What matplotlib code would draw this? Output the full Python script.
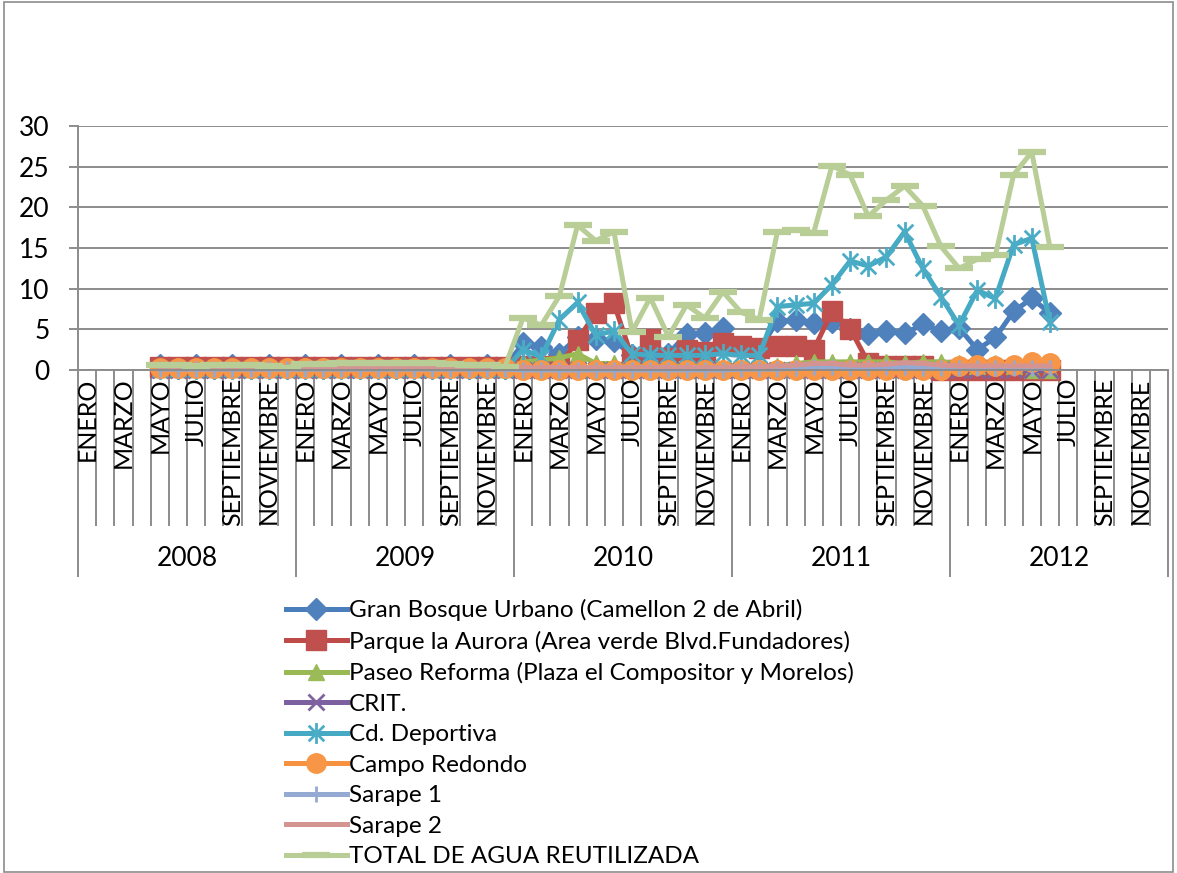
import numpy as np
import matplotlib
matplotlib.use("Agg")
import matplotlib.pyplot as plt
from matplotlib.path import Path
from matplotlib.patches import Rectangle

plt.rcParams['font.family'] = ['Lato', 'DejaVu Sans']

years = ['2008', '2009', '2010', '2011', '2012']
months = ['ENERO', 'FEBRERO', 'MARZO', 'ABRIL', 'MAYO', 'JUNIO', 'JULIO',
          'AGOSTO', 'SEPTIEMBRE', 'OCTUBRE', 'NOVIEMBRE', 'DICIEMBRE']

N = None
lead = [N] * 4     # Ene-Abr 2008 without data
trail = [N] * 6    # Jul-Dic 2012 without data

gran_bosque = lead + [
    0.6, 0.3, 0.6, 0.3, 0.6, 0.3, 0.6, 0.3,
    0.6, 0.3, 0.6, 0.3, 0.6, 0.3, 0.6, 0.3, 0.6, 0.3, 0.6, 0.3,
    3.3, 2.8, 2.0, 4.0, 3.8, 3.6, 1.8, 1.8, 2.0, 4.4, 4.5, 5.2,
    2.8, 2.5, 6.0, 6.1, 5.8, 5.9, 5.1, 4.4, 4.8, 4.5, 5.6, 4.8,
    5.2, 2.5, 4.0, 7.2, 8.8, 7.0] + trail
parque_aurora = lead + [0.35] * 20 + [
    0.5, 0.5, 0.5, 3.7, 7.0, 8.2, 1.5, 3.8, 1.5, 2.5, 2.2, 3.3,
    3.0, 2.7, 2.9, 2.9, 2.5, 7.2, 5.1, 0.9, 0.5, 0.5, 0.5, 0.0,
    0.0, 0.0, 0.0, 0.0, 0.0, 0.0] + trail
paseo_reforma = lead + [0.1] * 20 + [
    1.0, 1.2, 1.5, 2.0, 0.8, 0.8, 0.5, 0.5, 0.5, 0.5, 0.5, 0.5,
    0.5, 0.5, 0.5, 0.8, 1.0, 1.0, 1.0, 1.0, 1.0, 0.8, 1.0, 1.0,
    0.8, 0.5, 0.8, 0.5, 0.0, 0.0] + trail
crit = lead + [0.0] * 50 + trail
cd_deportiva = lead + [0.1] * 20 + [
    2.5, 1.6, 6.2, 8.3, 4.3, 4.8, 2.0, 1.8, 1.8, 1.8, 1.8, 2.0,
    1.8, 1.8, 7.8, 8.0, 8.2, 10.5, 13.4, 12.8, 13.9, 17.0, 12.5, 9.0,
    5.5, 9.8, 8.8, 15.4, 16.2, 5.9] + trail
campo_redondo = lead + [0.2] * 20 + [0.0] * 24 + [
    0.5, 0.6, 0.5, 0.6, 1.0, 0.8] + trail
sarape1 = lead + [0.1] * 20 + [
    0.0, 0.0, 0.0, 0.0, 0.0, 0.0, 0.0, 0.0, 0.0, 0.0, 0.0, 0.0,
    0.1, 0.1, 0.1, 0.2, 0.4, 0.4, 0.3, 0.3, 0.4, 0.4, 0.3, 0.2,
    0.3, 0.3, 0.3, 0.3, 0.3, 0.3] + trail
sarape2 = lead + [0.2] * 10 + [0.4] * 10 + [
    0.3, 0.3, 0.3, 0.3, 0.3, 0.3, 0.3, 0.3, 0.3, 0.3, 0.3, 0.3,
    0.4, 0.4, 0.5, 0.6, 0.8, 0.8, 0.6, 0.6, 0.7, 0.9, 0.8, 0.6,
    0.5, 0.5, 0.5, 0.5, 0.5, 0.5] + trail
total = lead + [
    0.6, 0.6, 0.5, 0.6, 0.6, 0.6, 0.5, 0.3,
    0.7, 0.7, 0.8, 0.8, 0.8, 0.8, 0.8, 0.8, 0.7, 0.6, 0.6, 0.4,
    6.4, 5.5, 9.1, 17.8, 15.9, 17.0, 4.7, 8.9, 4.1, 8.0, 6.4, 9.6,
    7.1, 6.2, 17.0, 17.2, 16.9, 25.1, 24.0, 18.9, 20.9, 22.6, 20.2, 15.2,
    12.5, 13.6, 14.1, 24.0, 26.8, 15.1] + trail

series = [
    ('Gran Bosque Urbano (Camellon 2 de Abril)', gran_bosque),
    ('Parque la Aurora (Area verde Blvd.Fundadores)', parque_aurora),
    ('Paseo Reforma (Plaza el Compositor y Morelos)', paseo_reforma),
    ('CRIT.', crit),
    ('Cd. Deportiva', cd_deportiva),
    ('Campo Redondo', campo_redondo),
    ('Sarape 1', sarape1),
    ('Sarape 2', sarape2),
    ('TOTAL DE AGUA REUTILIZADA', total),
]

star = Path([(0, -1), (0, 1), (-0.75, -0.75), (0.75, 0.75), (-0.75, 0.75), (0.75, -0.75)],
            [Path.MOVETO, Path.LINETO, Path.MOVETO, Path.LINETO, Path.MOVETO, Path.LINETO])

styles = [
    dict(color='#4A7EBB', marker='D', ms=11, mfc='#4F81BD', mec='#4F81BD', lw=3.6),
    dict(color='#BE4B48', marker='s', ms=14, mfc='#C0504D', mec='#C0504D', lw=3.6),
    dict(color='#98B954', marker='^', ms=12, mfc='#9BBB59', mec='#9BBB59', lw=3.6),
    dict(color='#7D60A0', marker='x', ms=11, mfc='none', mec='#8064A2', mew=2, lw=3.6),
    dict(color='#46AAC5', marker=star, ms=15, mfc='none', mec='#4BACC6', mew=2, lw=3.6),
    dict(color='#F69240', marker='o', ms=14, mfc='#F79646', mec='#F79646', lw=3.6),
    dict(color='#94AAD2', marker='|', ms=12, mec='#94AAD2', mew=2, lw=3.6),
    dict(color='#D49491', marker='None', lw=3.6),
    dict(color='#B9CD96', marker='_', ms=20, mec='#B9CD96', mew=4.5, lw=3.6),
]

W, H = 1177, 873
fig = plt.figure(figsize=(W / 100, H / 100), dpi=100)
fig.patch.set_facecolor('white')
ax = fig.add_axes([78 / W, 1 - 370 / H, (1168 - 78) / W, (370 - 126) / H])

n = len(years) * len(months)
x = np.arange(n)
handles = []
for (label, vals), st in zip(series, styles):
    y = np.array([np.nan if v is None else v for v in vals], dtype=float)
    ln, = ax.plot(x, y, label=label, solid_joinstyle='round', clip_on=False, **st)
    handles.append(ln)

grid_c = '#8C8C8C'
ax.set_xlim(-0.5, n - 0.5)
ax.set_ylim(0, 30)
ax.set_yticks(np.arange(0, 31, 5))
ax.yaxis.grid(True, color=grid_c, lw=1.4)
ax.set_axisbelow(True)
for s in ['top', 'right']:
    ax.spines[s].set_visible(False)
for s in ['left', 'bottom']:
    ax.spines[s].set_color(grid_c)
    ax.spines[s].set_linewidth(1.4)
ax.tick_params(axis='y', length=6.5, width=1.4, color=grid_c, labelsize=19, pad=14)

# category axis: month boundaries (minor) and year boundaries (major)
ax.set_xticks(np.arange(-0.5, n, 12))
ax.set_xticks(np.arange(-0.5, n, 1), minor=True)
ax.tick_params(axis='x', which='major', length=149, width=1.4, color=grid_c, labelbottom=False)
ax.tick_params(axis='x', which='minor', length=112, width=1.4, color=grid_c, labelbottom=False)

for i in range(n):
    if i % 2 == 0:
        ax.annotate(months[i % 12], xy=(i, 0), xycoords=('data', 'axes fraction'),
                    xytext=(0, -5.5), textcoords='offset points', rotation=90,
                    ha='center', va='top', fontsize=18)
for k, yr in enumerate(years):
    ax.annotate(yr, xy=(12 * k + 5.5, 0), xycoords=('data', 'axes fraction'),
                xytext=(0, -136), textcoords='offset points',
                ha='center', va='center', fontsize=19)

fig.legend(handles=handles, loc='upper left', bbox_to_anchor=(286 / W, 1 - 599 / H),
           frameon=False, fontsize=17.5, handlelength=2.5, handletextpad=0.1,
           labelspacing=0.39, borderaxespad=0, borderpad=0)

fig.patches.append(Rectangle((4 / W, 1 / H), (W - 8) / W, (H - 3) / H, transform=fig.transFigure,
                             fill=False, edgecolor='#8C8C8C', lw=1.2))

fig.savefig('out.png', dpi=100)
